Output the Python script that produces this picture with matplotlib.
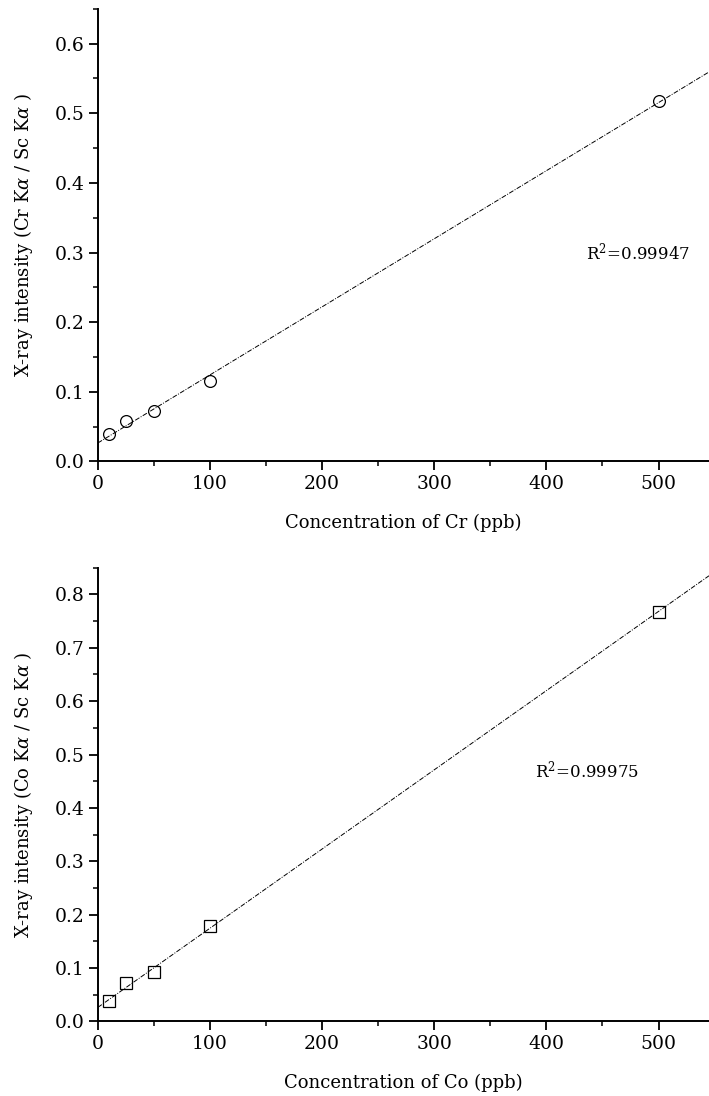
import matplotlib
matplotlib.use("Agg")
import matplotlib.pyplot as plt
import numpy as np
from matplotlib.ticker import MultipleLocator

plt.rcParams["font.family"] = ["DejaVu Serif"]
plt.rcParams["mathtext.fontset"] = "custom"
plt.rcParams["mathtext.rm"] = "DejaVu Serif"
plt.rcParams["mathtext.it"] = "DejaVu Serif:italic"

# calibration data
conc = [10, 25, 50, 100, 500]
cr_ratio = [0.040, 0.058, 0.072, 0.115, 0.517]
co_ratio = [0.038, 0.072, 0.092, 0.178, 0.768]
cr_r2 = "0.99947"
co_r2 = "0.99975"
x_ticks = [0, 100, 200, 300, 400, 500]

fig = plt.figure(figsize=(7.09, 10.96), dpi=100)
ax_top = fig.add_axes([0.138, 0.579, 0.862, 0.413])
ax_bot = fig.add_axes([0.138, 0.068, 0.862, 0.414])

panels = [
    (ax_top, cr_ratio, "o", "Cr", cr_r2, 0.65, (435, 0.30)),
    (ax_bot, co_ratio, "s", "Co", co_r2, 0.85, (390, 0.47)),
]

for ax, ratio, marker, elem, r2, ytop, txt_pos in panels:
    slope, icpt = np.polyfit(conc, ratio, 1)
    xs = np.array([0, 545])
    ax.plot(xs, icpt + slope * xs, color="black", lw=0.7, linestyle=(0, (5, 1.5, 1, 1.5)))
    ax.plot(conc, ratio, linestyle="none", marker=marker, markersize=8.5,
            markerfacecolor="none", markeredgecolor="black", markeredgewidth=0.9)
    ax.set_xlim(0, 545)
    ax.set_ylim(0, ytop)
    ax.set_xticks(x_ticks)
    ax.xaxis.set_minor_locator(MultipleLocator(50))
    ax.yaxis.set_major_locator(MultipleLocator(0.1))
    ax.yaxis.set_minor_locator(MultipleLocator(0.05))
    ax.yaxis.set_major_formatter(plt.FormatStrFormatter("%.1f"))
    for s in ("top", "right"):
        ax.spines[s].set_visible(False)
    for s in ("left", "bottom"):
        ax.spines[s].set_linewidth(1.4)
    ax.tick_params(which="major", direction="out", length=6.5, width=1.3, labelsize=13.5, pad=3)
    ax.tick_params(which="minor", direction="out", length=3.5, width=1.1)
    ax.set_xlabel(f"Concentration of {elem} (ppb)", fontsize=13, labelpad=15)
    ax.set_ylabel(rf"X-ray intensity ({elem} K$\alpha$ / Sc K$\alpha$ )", fontsize=13, labelpad=14)
    ax.text(txt_pos[0], txt_pos[1], rf"R$^2$={r2}", fontsize=12, ha="left", va="center")

fig.savefig("out.png", dpi=100)
